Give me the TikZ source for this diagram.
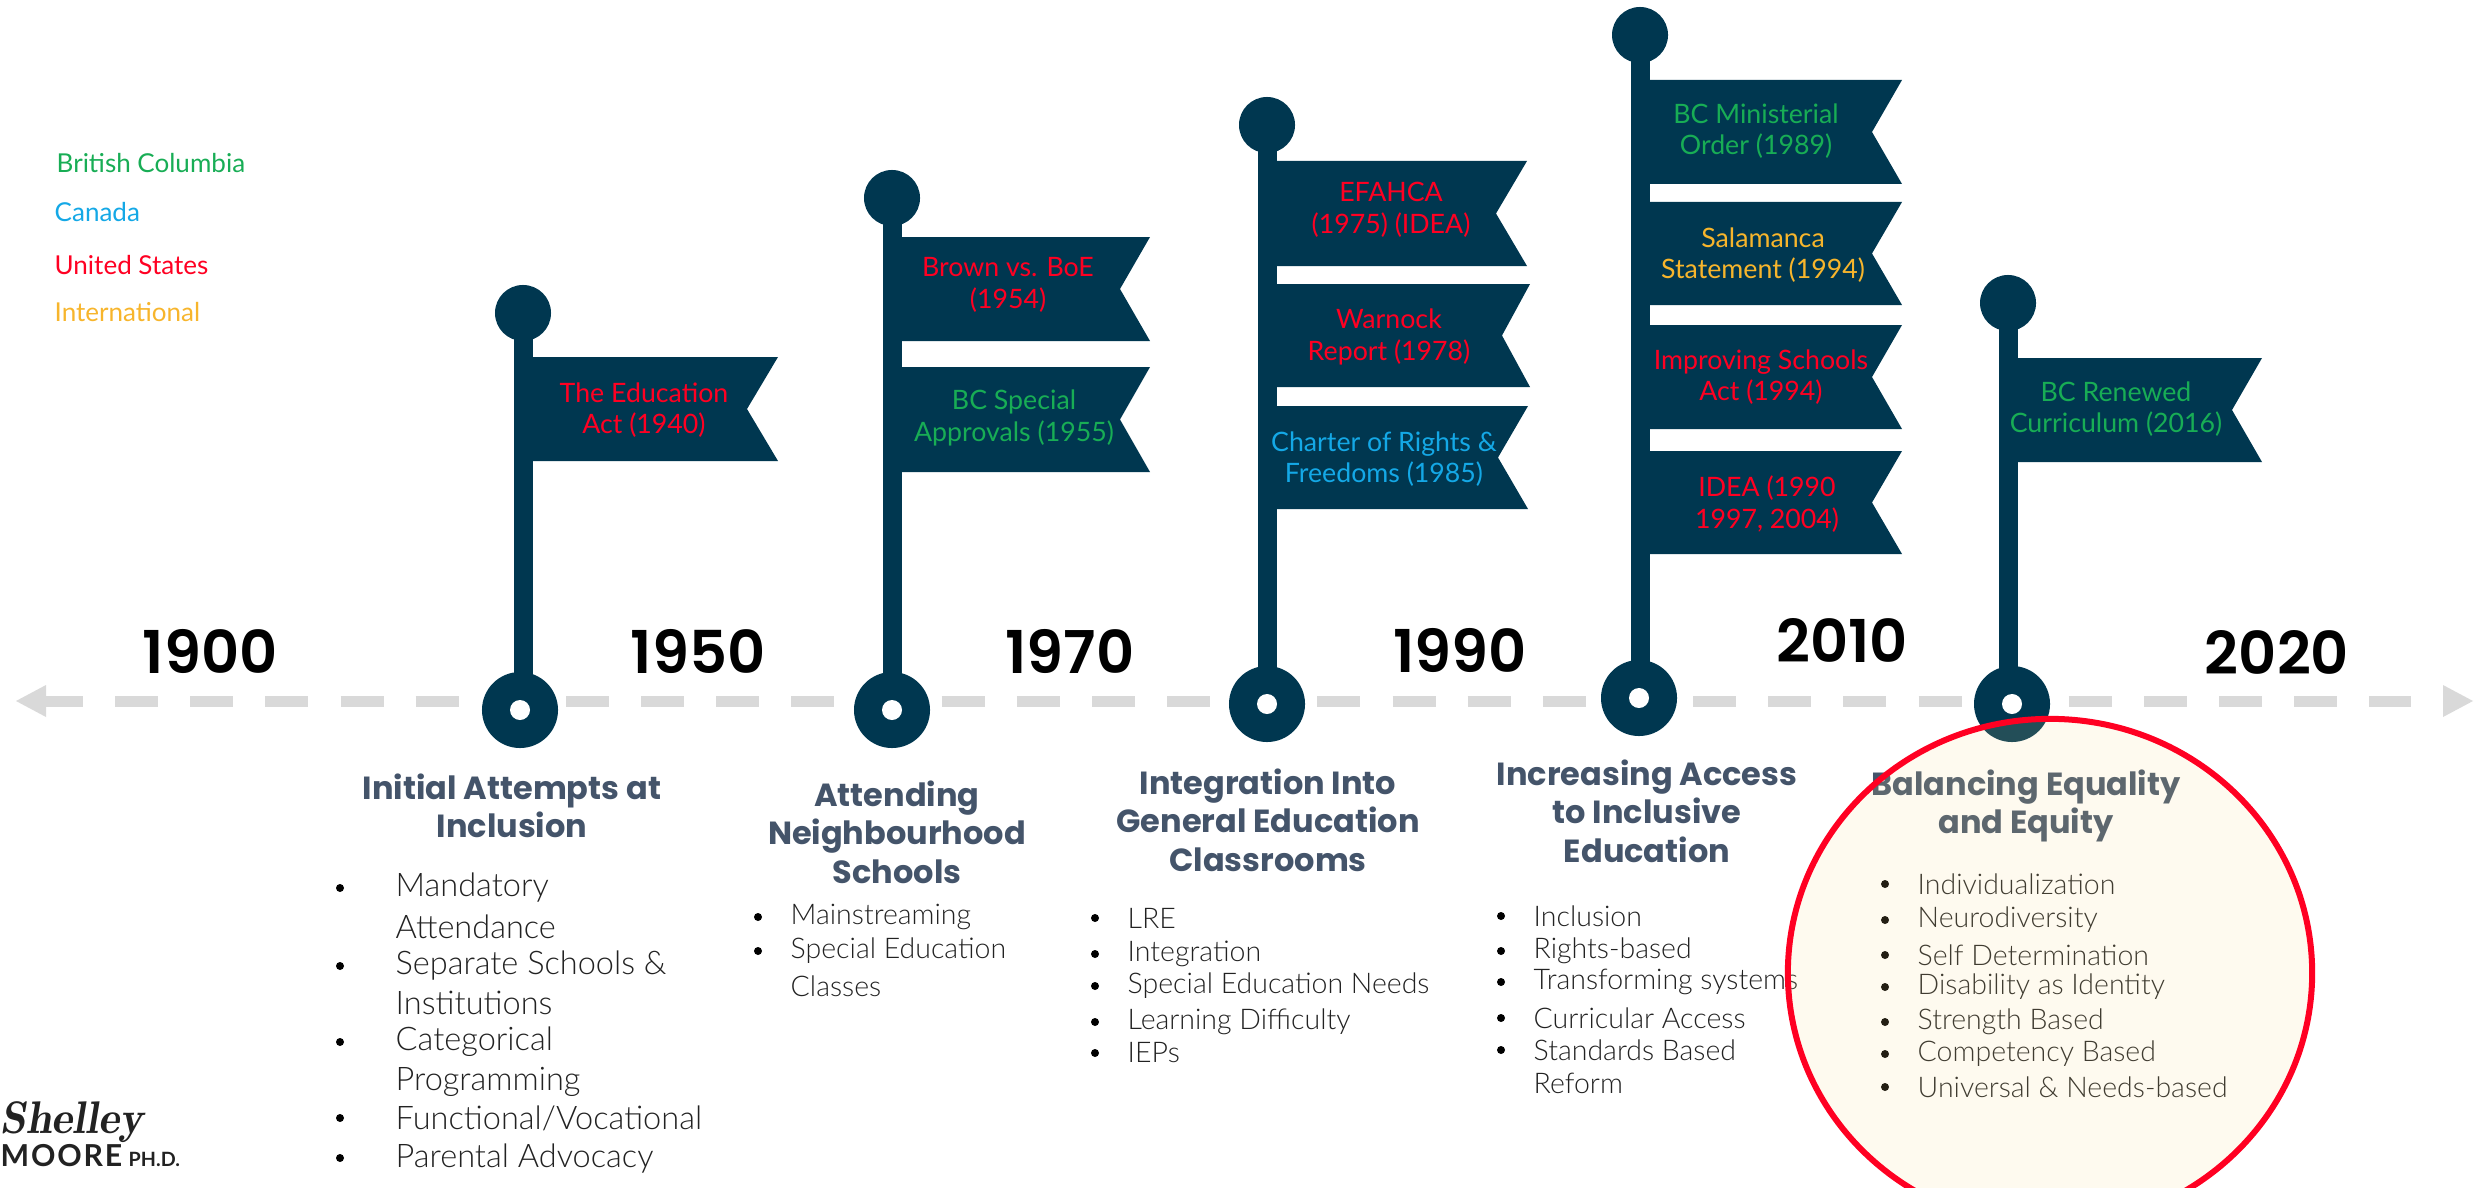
\documentclass[tikz,border=0pt]{standalone}
\usepackage{fontspec}
\usepackage{xcolor}
\usetikzlibrary{shapes.geometric}
\setmainfont{Lato}
\newfontfamily\lightfont{Lato Light}
\newfontfamily\titlefont{Poppins}
\newfontfamily\yearfont{Poppins SemiBold}
\newfontfamily\logofont[LetterSpace=6]{Lato}
\definecolor{poleblue}{HTML}{003750}
\definecolor{axisgray}{HTML}{D9D9D9}
\definecolor{titleslate}{HTML}{44546A}
\definecolor{bodygray}{HTML}{222222}
\definecolor{bcgreen}{HTML}{18AD55}
\definecolor{cablue}{HTML}{14A8E6}
\definecolor{usred}{HTML}{FF0022}
\definecolor{intyellow}{HTML}{F7B52C}
\definecolor{focusfill}{RGB}{248,219,141}
\tikzset{
	axisline/.style={draw=axisgray, line width=.11cm, dash pattern=on .43cm off .321cm},
	polebar/.style={draw=poleblue, line width=.19cm, shorten <=-.05cm, shorten >=-.05cm},
	polehead/.style={circle, fill=poleblue, inner sep=0pt, minimum size=.56cm},
	polebase/.style={circle, fill=poleblue, inner sep=0pt, minimum size=.76cm},
	polehole/.style={circle, fill=white, inner sep=0pt, minimum size=.2cm},
	flagtext/.style={align=center, inner sep=0pt, font=\fontsize{7.6}{9}\selectfont},
	yeartext/.style={inner sep=0pt, font=\yearfont\fontsize{16.8}{20}\selectfont},
	legendtext/.style={anchor=west, inner sep=0pt, font=\fontsize{7.4}{9}\selectfont},
	titletext/.style={align=center, inner sep=0pt, text=titleslate, font=\titlefont\bfseries\fontsize{9.1}{10.9}\selectfont},
	itemtext/.style={anchor=west, inner sep=0pt, text=bodygray, font=\lightfont\fontsize{8.1}{9}\selectfont},
	bigitem/.style={itemtext, font=\lightfont\fontsize{9.25}{10}\selectfont},
	itemdot/.style={circle, fill=black, inner sep=0pt, minimum size=.08cm},
}
\begin{document}
\begin{tikzpicture}[x=.01cm, y=-.01cm]
	\clip (0,0) rectangle (2476,1188);

	\coordinate (axisl) at (40,701);
	\coordinate (axisr) at (2411,701);
	\draw[axisline] (axisl) -- (axisr);
	\fill[axisgray] (16,701) -- (46,685) -- (46,717) -- cycle;
	\fill[axisgray] (2473,701) -- (2443,685) -- (2443,717) -- cycle;

	\foreach \k/\hx/\hy/\bx/\by in {1/523/313/520/710, 2/892/198/892/710, 3/1267/125/1267/704, 4/1640/35/1639/698, 5/2008/303/2012/704} {
		\node[polehead] (head\k) at (\hx,\hy) {};
		\node[polebase] (base\k) at (\bx,\by) {};
		\draw[polebar] (head\k) -- (head\k |- base\k.north);
		\node[polehole] (hole\k) at (\bx,\by) {};
	}

	\foreach \fx/\ft/\fr/\fb/\fn in {
		525/357/778/461/747,
		895/237/1150/341/1120, 895/367/1150/472/1120,
		1268/161/1527/266/1496, 1268/284/1530/387/1502, 1268/406/1528/509/1498,
		1640/80/1902/184/1872, 1640/202/1902/305/1872, 1640/325/1902/429/1872, 1640/451/1902/554/1872,
		2010/358/2262/462/2232} {
		\fill[poleblue] (\fx,\ft) -- (\fr,\ft) -- (\fn,{(\ft+\fb)/2}) -- (\fr,\fb) -- (\fx,\fb) -- cycle;
	}

	\node[flagtext, text=usred] (flageduc) at (644,410) {The Education\\Act (1940)};
	\node[flagtext, text=usred] (flagbrown) at (1008,285) {Brown vs. BoE\\(1954)};
	\node[flagtext, text=bcgreen] (flagappr) at (1014,418) {BC Special\\Approvals (1955)};
	\node[flagtext, text=usred] (flagefa) at (1391,210) {EFAHCA\\(1975) (IDEA)};
	\node[flagtext, text=usred] (flagwarn) at (1389,337) {Warnock\\Report (1978)};
	\node[flagtext, text=cablue] (flagchart) at (1384,459) {Charter of Rights \&\\Freedoms (1985)};
	\node[flagtext, text=bcgreen] (flagmin) at (1756,131) {BC Ministerial\\Order (1989)};
	\node[flagtext, text=intyellow] (flagsal) at (1763,255) {Salamanca\\Statement (1994)};
	\node[flagtext, text=usred] (flagimpr) at (1761,377) {Improving Schools\\Act (1994)};
	\node[flagtext, text=usred] (flagidea) at (1767,504) {IDEA (1990\\1997, 2004)};
	\node[flagtext, text=bcgreen] (flagcurr) at (2116,409) {BC Renewed\\Curriculum (2016)};

	\node[yeartext] (y1900) at (210,651) {1900};
	\node[yeartext] (y1950) at (698,651) {1950};
	\node[yeartext] (y1970) at (1070,651) {1970};
	\node[yeartext] (y1990) at (1460,650) {1990};
	\node[yeartext] (y2010) at (1842,640) {2010};
	\node[yeartext] (y2020) at (2277,652) {2020};

	\node[legendtext, text=bcgreen] (legbc) at (56,163) {British Columbia};
	\node[legendtext, text=cablue] (legca) at (54,212) {Canada};
	\node[legendtext, text=usred] (legus) at (54,265) {United States};
	\node[legendtext, text=intyellow] (legint) at (54,312) {International};

	\node[titletext] (titlea) at (512,806) {Initial Attempts at\\Inclusion};
	\node[titletext] (titleb) at (897,832) {Attending\\Neighbourhood\\Schools};
	\node[titletext] (titlec) at (1268,820) {Integration Into\\General Education\\Classrooms};
	\node[titletext] (titled) at (1647,811) {Increasing Access\\to Inclusive\\Education};
	\node[titletext] (titlee) at (2026,806) {Balancing Equality\\and Equity};

	\foreach \y/\txt in {888/Mandatory, 927/Attendance, 966/Separate Schools \&, 1003/Institutions, 1042/Categorical, 1082/Programming, 1118/{Functional/Vocational}, 1159/Parental Advocacy} {
		\node[bigitem] (itema\y) at (395,\y) {\txt};
	}
	\foreach \y in {888,966,1042,1118,1158} {
		\node[itemdot] (dota\y) at (340,\y) {};
	}
	\foreach \y/\txt in {917/Mainstreaming, 951/Special Education, 986/Classes} {
		\node[itemtext] (itemb\y) at (790,\y) {\txt};
	}
	\foreach \y in {917,951} {
		\node[itemdot] (dotb\y) at (758,\y) {};
	}
	\foreach \y/\txt in {918/LRE, 954/Integration, 986/Special Education Needs, 1022/Learning Difficulty, 1053/IEPs} {
		\node[itemtext] (itemc\y) at (1127,\y) {\txt};
		\node[itemdot] (dotc\y) at (1095,\y) {};
	}
	\foreach \y/\txt in {916/Inclusion, 951/Rights-based, 982/Transforming systems, 1018/Curricular Access, 1050/Standards Based, 1083/Reform} {
		\node[itemtext] (itemd\y) at (1533,\y) {\txt};
	}
	\foreach \y in {916,951,982,1018,1050} {
		\node[itemdot] (dotd\y) at (1501,\y) {};
	}
	\foreach \y/\txt in {884/Individualization, 920/Neurodiversity, 955/Self Determination, 987/Disability as Identity, 1022/Strength Based, 1054/Competency Based, 1087/Universal \& Needs-based} {
		\node[itemtext] (iteme\y) at (1917,\y) {\txt};
		\node[itemdot] (dote\y) at (1885,\y) {};
	}

	\node[anchor=base west, inner sep=0pt, text=bodygray, font=\fontfamily{lmr}\bfseries\itshape\fontsize{13}{14}\selectfont] (logoname) at (0,1133) {Shelley};
	\node[anchor=base west, inner sep=0pt, text=bodygray, font=\logofont\bfseries\fontsize{8.6}{9}\selectfont] (logomoore) at (0,1166) {MOORE};
	\node[anchor=base west, inner sep=0pt, text=bodygray, font=\bfseries\fontsize{5.6}{6}\selectfont] (logophd) at (128,1166) {PH.D.};

	\node[ellipse, draw=usred, line width=.06cm, fill=focusfill, fill opacity=.14, inner sep=0pt, minimum width=5.24cm, minimum height=5.08cm] (focus) at (2050,973) {};
\end{tikzpicture}
\end{document}
